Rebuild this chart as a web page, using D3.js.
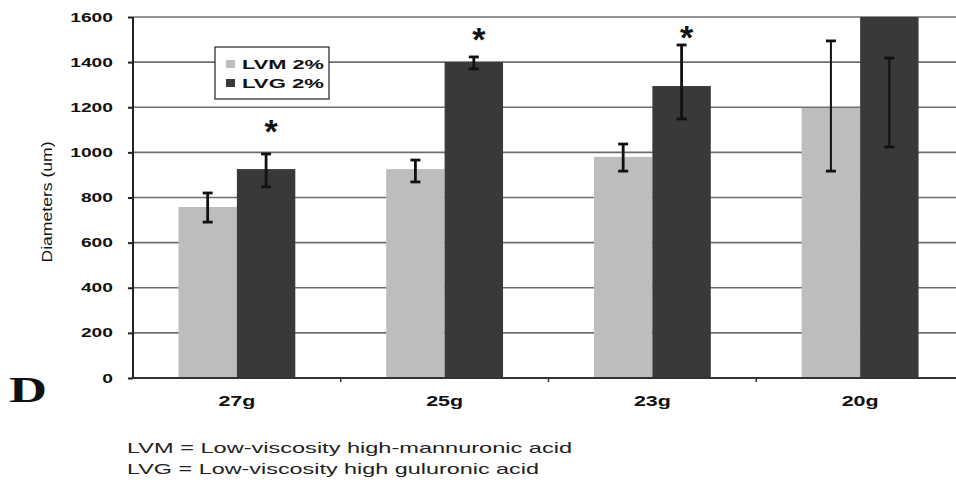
<!DOCTYPE html>
<html>
<head>
<meta charset="utf-8">
<script src="https://cdn.jsdelivr.net/npm/d3@7/dist/d3.min.js"></script>
<style>
  html, body { margin: 0; padding: 0; background: #fff; }
  svg { display: block; }
</style>
</head>
<body>
<svg id="chart" width="956" height="487"></svg>
<script>
// ---- data ----
const categories = ["27g", "25g", "23g", "20g"];
const seriesNames = ["LVM 2%", "LVG 2%"];
const lvmValues = [758, 926, 980, 1197];
const lvmErrLow = [691, 869, 917, 917];
const lvmErrHigh = [820, 966, 1037, 1494];
const lvgValues = [926, 1400, 1294, 1600];
const lvgErrLow = [847, 1370, 1148, 1024];
const lvgErrHigh = [993, 1423, 1476, 1418];
const significanceY = [1120, 1530, 1540, null];
const yTicks = [0, 200, 400, 600, 800, 1000, 1200, 1400, 1600];
const yTitle = "Diameters (um)";
const panelLabel = "D";
const footnotes = ["LVM = Low-viscosity high-mannuronic acid", "LVG = Low-viscosity high guluronic acid"];

// ---- layout ----
const svg = d3.select("#chart");
const plotLeft = 133, plotRight = 964, plotTop = 17, plotBottom = 378;
const colors = { "LVM 2%": "#bdbdbd", "LVG 2%": "#393939" };
const sans = "Liberation Sans, Arial, sans-serif";

const x = d3.scaleBand().domain(categories).range([plotLeft, plotRight]).padding(0);
const xs = d3.scaleBand().domain(seriesNames).range([0, x.bandwidth()]).paddingInner(0).paddingOuter(0.778);
const y = d3.scaleLinear().domain([0, 1600]).range([plotBottom, plotTop]);

const rows = seriesNames.map((s, si) => categories.map((c, i) => ({
  cat: c, series: s,
  value: si === 0 ? lvmValues[i] : lvgValues[i],
  lo: si === 0 ? lvmErrLow[i] : lvgErrLow[i],
  hi: si === 0 ? lvmErrHigh[i] : lvgErrHigh[i]
}))).flat();

// gridlines
svg.append("g").selectAll("line").data(yTicks.filter(t => t > 0)).join("line")
  .attr("x1", plotLeft).attr("x2", 956)
  .attr("y1", d => y(d)).attr("y2", d => y(d))
  .attr("stroke", "#6e6e6e").attr("stroke-width", 1.7);

// bars
svg.append("g").selectAll("rect").data(rows).join("rect")
  .attr("x", d => x(d.cat) + xs(d.series))
  .attr("y", d => y(d.value))
  .attr("width", xs.bandwidth())
  .attr("height", d => y(0) - y(d.value))
  .attr("fill", d => colors[d.series]);

// error bars
const eb = svg.append("g").attr("stroke", "#111");
rows.forEach(d => {
  const cx = x(d.cat) + xs(d.series) + xs.bandwidth() / 2;
  const w = d.cat === "20g" ? 2 : 2.8;
  eb.append("line").attr("x1", cx).attr("x2", cx).attr("y1", y(d.lo)).attr("y2", y(d.hi)).attr("stroke-width", w);
  [d.lo, d.hi].forEach(v => eb.append("line").attr("x1", cx - 5).attr("x2", cx + 5).attr("y1", y(v)).attr("y2", y(v)).attr("stroke-width", 2.8));
});

// significance asterisks
svg.append("g").selectAll("text").data(categories.map((c, i) => ({ c, v: significanceY[i] })).filter(d => d.v != null)).join("text")
  .attr("x", d => x(d.c) + xs("LVG 2%") + xs.bandwidth() / 2 + 5)
  .attr("y", d => y(d.v) + 18)
  .attr("text-anchor", "middle")
  .attr("font-family", sans)
  .attr("font-weight", "bold").attr("font-size", 34).attr("fill", "#111")
  .text("*");

// y axis
const yAxis = d3.axisLeft(y).tickValues(yTicks).tickFormat(d3.format("d")).tickSize(5).tickPadding(15);
const ya = svg.append("g").attr("transform", `translate(${plotLeft},0)`).call(yAxis);
ya.select(".domain").attr("stroke", "#222").attr("stroke-width", 2).attr("d", `M0,${plotTop}V${plotBottom}`);
ya.selectAll(".tick line").attr("stroke", "#222").attr("stroke-width", 2);
ya.selectAll(".tick text").attr("font-family", sans)
  .attr("font-weight", "bold").attr("font-size", 12.5).attr("fill", "#111")
  .attr("textLength", d => String(d).length * 10.7).attr("lengthAdjust", "spacingAndGlyphs");

// x axis
const xAxisLine = svg.append("g");
xAxisLine.append("line").attr("x1", plotLeft).attr("x2", 956).attr("y1", y(0)).attr("y2", y(0))
  .attr("stroke", "#333").attr("stroke-width", 2);
xAxisLine.selectAll("line.tk").data(categories.slice(1)).join("line").attr("class", "tk")
  .attr("x1", d => x(d)).attr("x2", d => x(d)).attr("y1", y(0)).attr("y2", y(0) + 4)
  .attr("stroke", "#333").attr("stroke-width", 1.5);
xAxisLine.selectAll("text").data(categories).join("text")
  .attr("x", d => x(d) + x.bandwidth() / 2).attr("y", 406)
  .attr("text-anchor", "middle")
  .attr("font-family", sans)
  .attr("font-weight", "bold").attr("font-size", 14).attr("fill", "#111")
  .attr("textLength", 37).attr("lengthAdjust", "spacingAndGlyphs")
  .text(d => d);

// y title
svg.append("text")
  .attr("transform", "translate(52,202) rotate(-90)")
  .attr("text-anchor", "middle")
  .attr("font-family", "Liberation Sans Narrow, Arial Narrow, Liberation Sans, sans-serif")
  .attr("font-size", 14.5).attr("fill", "#111")
  .attr("textLength", 121).attr("lengthAdjust", "spacingAndGlyphs")
  .text(yTitle);

// legend
const lg = svg.append("g");
lg.append("rect").attr("x", 215).attr("y", 47).attr("width", 114).attr("height", 52)
  .attr("fill", "#fff").attr("stroke", "#333").attr("stroke-width", 1.3);
seriesNames.forEach((s, i) => {
  const cy = 64 + i * 19;
  lg.append("rect").attr("x", 226).attr("y", cy - 4).attr("width", 9).attr("height", 8).attr("fill", colors[s]);
  lg.append("text").attr("x", 242).attr("y", cy + 5)
    .attr("font-family", sans)
    .attr("font-weight", "bold").attr("font-size", 13).attr("fill", "#111")
    .attr("textLength", 82).attr("lengthAdjust", "spacingAndGlyphs")
    .text(s);
});

// panel label
svg.append("text").attr("x", 9).attr("y", 402)
  .attr("font-family", "Liberation Serif, Times New Roman, serif")
  .attr("font-weight", "bold").attr("font-size", 35).attr("fill", "#111")
  .attr("textLength", 38).attr("lengthAdjust", "spacingAndGlyphs")
  .text(panelLabel);

// footnotes
svg.append("g").selectAll("text").data(footnotes).join("text")
  .attr("x", 127).attr("y", (d, i) => 453 + i * 21)
  .attr("font-family", sans)
  .attr("font-size", 15).attr("fill", "#222")
  .attr("textLength", (d, i) => i === 0 ? 445 : 412).attr("lengthAdjust", "spacingAndGlyphs")
  .text(d => d);
</script>
</body>
</html>
